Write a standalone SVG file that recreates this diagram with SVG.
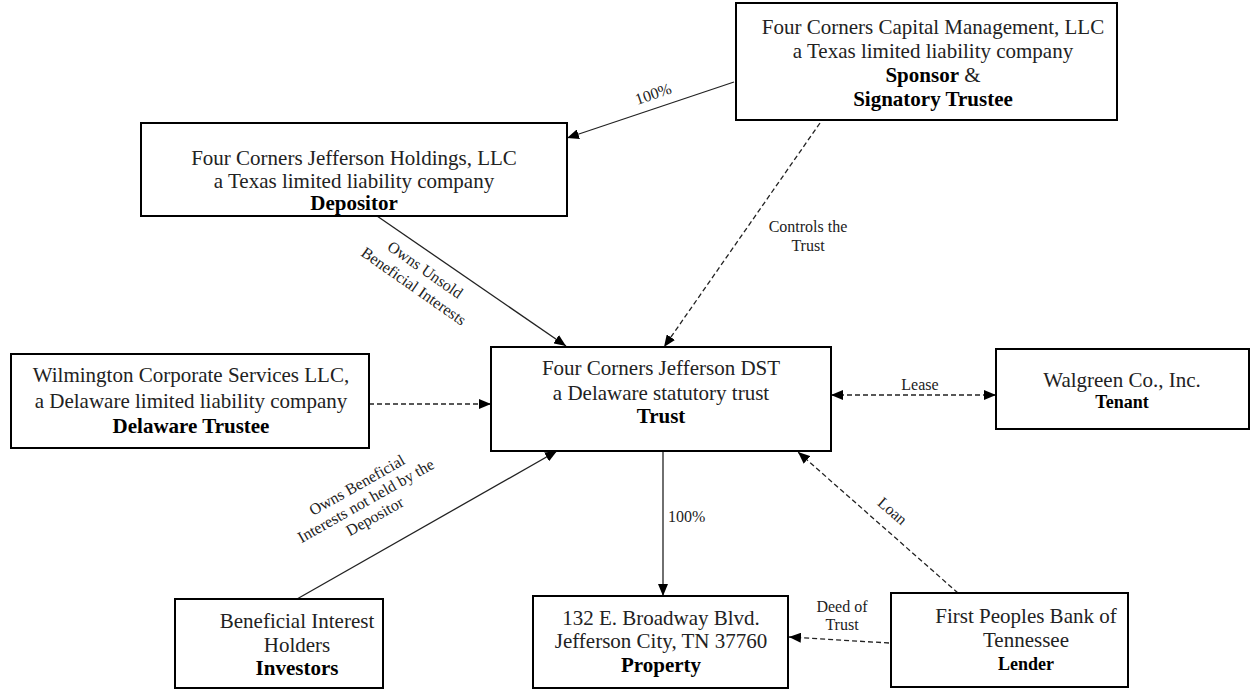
<svg xmlns="http://www.w3.org/2000/svg" width="1250" height="691" viewBox="0 0 1250 691">
<style>
.box{fill:#fff;stroke:#000;stroke-width:2}
.t{font-family:"Liberation Serif","Times New Roman",serif;font-size:21px;fill:#222;text-anchor:middle}
.b{font-weight:bold;fill:#000}
.s{font-family:"Liberation Serif","Times New Roman",serif;font-size:16px;fill:#222;text-anchor:middle}
.ln{stroke:#222;stroke-width:1.3;fill:none}
.d{stroke-dasharray:5 3}
</style>
<defs>
<marker id="ah" viewBox="0 0 12 10" refX="12" refY="5" markerWidth="12" markerHeight="10" markerUnits="userSpaceOnUse" orient="auto-start-reverse">
<path d="M0,0 L12,5 L0,10 z" fill="#000"/>
</marker>
</defs>
<rect width="1250" height="691" fill="#fff"/>
<g id="connectors">
<line class="ln" x1="734" y1="82" x2="567" y2="138" marker-end="url(#ah)"/>
<text class="s" transform="translate(655,99) rotate(-19)">100%</text>
<line class="ln d" x1="820" y1="123" x2="664" y2="347" marker-end="url(#ah)"/>
<text class="s" x="808" y="232">Controls the</text>
<text class="s" x="808" y="251">Trust</text>
<line class="ln" x1="377" y1="216" x2="566" y2="346" marker-end="url(#ah)"/>
<g transform="translate(425,270) rotate(35)">
<text class="s" x="0" y="5">Owns Unsold</text>
<text class="s" x="0" y="25">Beneficial Interests</text>
</g>
<line class="ln d" x1="369" y1="404" x2="491" y2="404" marker-end="url(#ah)"/>
<line class="ln d" x1="831" y1="395" x2="996" y2="395" marker-start="url(#ah)" marker-end="url(#ah)"/>
<text class="s" x="920" y="390">Lease</text>
<line class="ln" x1="297" y1="599" x2="557" y2="451" marker-end="url(#ah)"/>
<g transform="translate(366,501) rotate(-29.5)">
<text class="s" x="0" y="-13">Owns Beneficial</text>
<text class="s" x="0" y="5">Interests not held by the</text>
<text class="s" x="0" y="23">Depositor</text>
</g>
<line class="ln" x1="663" y1="451" x2="663" y2="596" marker-end="url(#ah)"/>
<text class="s" x="668" y="522" style="text-anchor:start">100%</text>
<line class="ln d" x1="958" y1="593" x2="798" y2="452" marker-end="url(#ah)"/>
<text class="s" transform="translate(889,515) rotate(41)">Loan</text>
<line class="ln d" x1="889" y1="643" x2="789" y2="637" marker-end="url(#ah)"/>
<text class="s" x="842" y="612">Deed of</text>
<text class="s" x="842" y="630">Trust</text>
</g>
<g id="sponsor">
<rect class="box" x="736" y="3" width="381" height="117"/>
<text class="t" x="933" y="34">Four Corners Capital Management, LLC</text>
<text class="t" x="933" y="58">a Texas limited liability company</text>
<text class="t" x="933" y="82"><tspan class="b">Sponsor</tspan> &amp;</text>
<text class="t b" x="933" y="106">Signatory Trustee</text>
</g>
<g id="depositor">
<rect class="box" x="141" y="123" width="426" height="93"/>
<text class="t" x="354" y="165">Four Corners Jefferson Holdings, LLC</text>
<text class="t" x="354" y="188">a Texas limited liability company</text>
<text class="t b" x="354" y="210">Depositor</text>
</g>
<g id="trust">
<rect class="box" x="491" y="347" width="340" height="104"/>
<text class="t" x="661" y="375">Four Corners Jefferson DST</text>
<text class="t" x="661" y="400">a Delaware statutory trust</text>
<text class="t b" x="661" y="423">Trust</text>
</g>
<g id="delaware-trustee">
<rect class="box" x="11" y="354" width="358" height="94"/>
<text class="t" x="191" y="382">Wilmington Corporate Services LLC,</text>
<text class="t" x="191" y="408">a Delaware limited liability company</text>
<text class="t b" x="191" y="433">Delaware Trustee</text>
</g>
<g id="tenant">
<rect class="box" x="996" y="349" width="253" height="80"/>
<text class="t" x="1122" y="387">Walgreen Co., Inc.</text>
<text class="t b" x="1122" y="408" style="font-size:18px">Tenant</text>
</g>
<g id="investors">
<rect class="box" x="175" y="599" width="208" height="89"/>
<text class="t" x="297" y="628">Beneficial Interest</text>
<text class="t" x="297" y="652">Holders</text>
<text class="t b" x="297" y="675">Investors</text>
</g>
<g id="property">
<rect class="box" x="533" y="596" width="255" height="92"/>
<text class="t" x="661" y="625">132 E. Broadway Blvd.</text>
<text class="t" x="661" y="648">Jefferson City, TN 37760</text>
<text class="t b" x="661" y="672">Property</text>
</g>
<g id="lender">
<rect class="box" x="891" y="593" width="237" height="94"/>
<text class="t" x="1026" y="623">First Peoples Bank of</text>
<text class="t" x="1026" y="647">Tennessee</text>
<text class="t b" x="1026" y="670" style="font-size:18px">Lender</text>
</g>
</svg>
